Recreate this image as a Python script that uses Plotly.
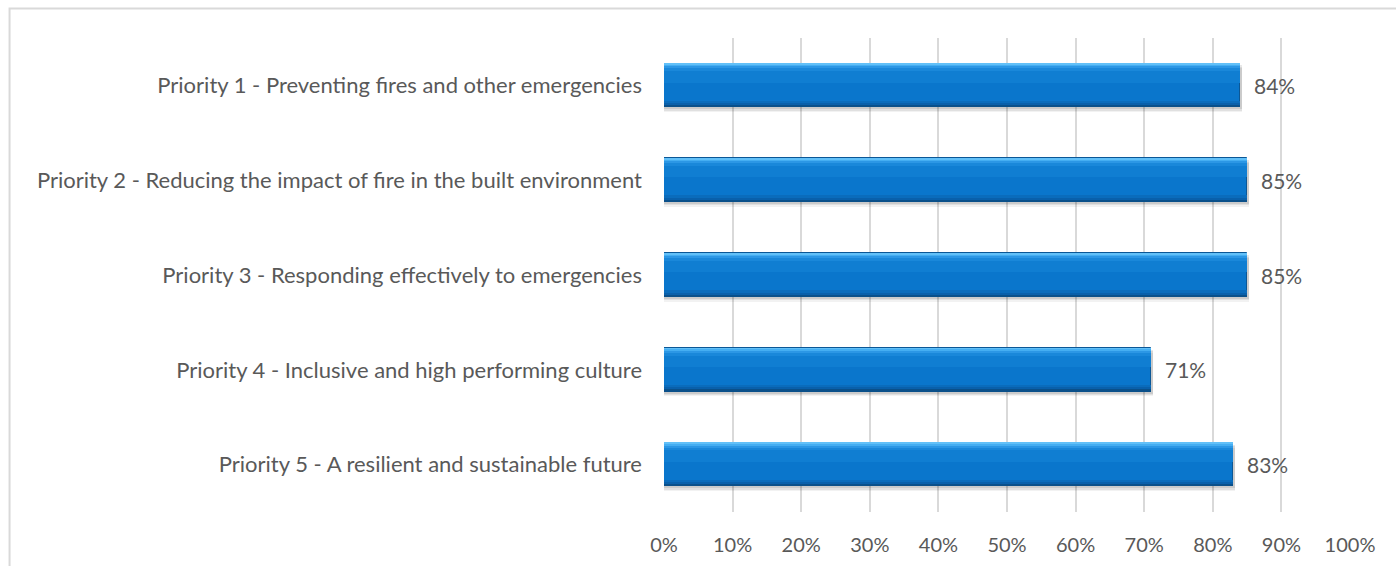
import plotly.graph_objects as go

# Survey results per strategic priority
categories = [
    "Priority 1 - Preventing fires and other emergencies",
    "Priority 2 - Reducing the impact of fire in the built environment",
    "Priority 3 - Responding effectively to emergencies",
    "Priority 4 - Inclusive and high performing culture",
    "Priority 5 - A resilient and sustainable future",
]
values = [0.84, 0.85, 0.85, 0.71, 0.83]
tick_vals = [0, 0.1, 0.2, 0.3, 0.4, 0.5, 0.6, 0.7, 0.8, 0.9, 1.0]
tick_text = ["0%", "10%", "20%", "30%", "40%", "50%", "60%", "70%", "80%", "90%", "100%"]

FONT = "Lato"
TXT = "#595959"
BAR_W = 0.46
HALF = BAR_W / 2

fig = go.Figure()

# soft drop shadow under each bar
for dy, alpha in [(0.05, 0.05), (0.035, 0.07), (0.02, 0.09)]:
    fig.add_trace(go.Bar(
        y=categories, x=[v + 0.003 for v in values], orientation="h",
        width=BAR_W, offset=-HALF + dy,
        marker=dict(color=f"rgba(0,0,0,{alpha})", line=dict(width=0)),
        hoverinfo="skip", showlegend=False,
    ))

# main bar body
fig.add_trace(go.Bar(
    y=categories, x=values, orientation="h",
    width=BAR_W, offset=-HALF,
    marker=dict(color="#0a76cc", line=dict(color="#0b5796", width=1)),
    showlegend=False,
))

# gradient bands: light top edge fading into the body, darker bottom edge
bands = [
    (0.000, 0.014, "#62c0f8"),
    (0.014, 0.030, "#45aef2"),
    (0.030, 0.050, "#2c97e5"),
    (0.050, 0.080, "#1a88da"),
    (0.080, 0.120, "#107ed2"),
    (BAR_W - 0.070, 0.025, "#0a6cbc"),
    (BAR_W - 0.045, 0.022, "#0960ab"),
    (BAR_W - 0.023, 0.023, "#0a508a"),
]
for start, w, col in bands:
    fig.add_trace(go.Bar(
        y=categories, x=values, orientation="h",
        width=w, offset=-HALF + start,
        marker=dict(color=col, line=dict(width=0)),
        hoverinfo="skip", showlegend=False,
    ))

# value labels to the right of each bar
for cat, v in zip(categories, values):
    fig.add_annotation(
        x=v, y=cat, text=f"{round(v * 100)}%", showarrow=False,
        xanchor="left", xshift=12, font=dict(family=FONT, size=21, color=TXT),
    )

# outer frame of the chart area
fig.add_shape(
    type="rect", xref="paper", yref="paper",
    x0=-0.954, x1=1.2, y0=-0.3, y1=1.062,
    line=dict(color="#d9d9d9", width=2), fillcolor="rgba(0,0,0,0)", layer="below",
)

fig.update_layout(
    width=1396, height=566,
    margin=dict(l=664, r=46, t=38, b=54, autoexpand=False),
    paper_bgcolor="white", plot_bgcolor="white",
    barmode="overlay", bargap=0,
    font=dict(family=FONT, size=21, color=TXT),
    xaxis=dict(
        range=[0, 1.0], tickvals=tick_vals, ticktext=tick_text,
        showgrid=True, gridcolor="#d9d9d9", gridwidth=1.5,
        zeroline=False, showline=False, ticks="", ticklabelstandoff=19,
        tickfont=dict(family=FONT, size=20, color=TXT), fixedrange=True,
    ),
    yaxis=dict(
        type="category", categoryorder="array", categoryarray=categories,
        autorange="reversed", showgrid=False, zeroline=False, showline=False,
        ticks="", ticklabelstandoff=21,
        tickfont=dict(family=FONT, size=22, color=TXT),
    ),
)

fig.write_html("out.html")
